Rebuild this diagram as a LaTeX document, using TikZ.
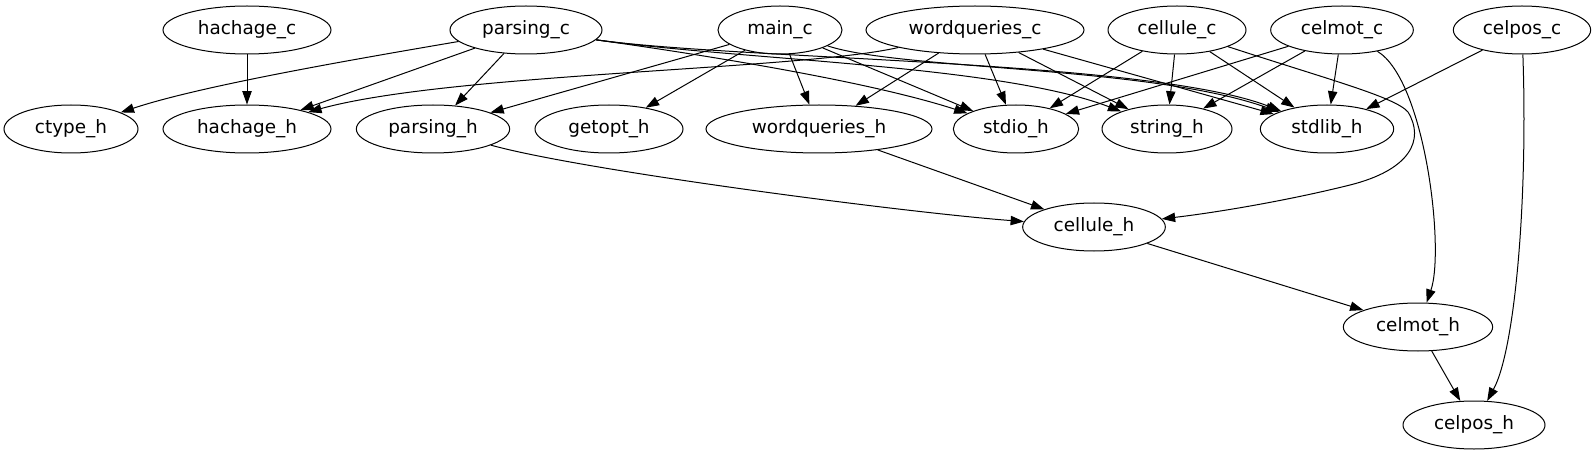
\documentclass[tikz,border=0pt]{standalone}
\usepackage{fontspec}
\setmainfont{DejaVu Sans}
\usetikzlibrary{arrows.meta,shapes.geometric}
\begin{document}
\begin{tikzpicture}[x=0.75pt,y=-0.75pt,
  nd/.style={draw, ellipse, line width=0.75pt, minimum height=36pt, inner sep=0pt,
             font=\fontsize{13.8}{16}\selectfont},
  edge/.style={line width=0.75pt, -{Triangle[length=10pt,width=7pt]}}]
\useasboundingbox (0,0) rectangle (1596,456);
% row 1
\node[nd, minimum width=126pt] (hachage_c) at (247,30) {hachage\_c};
\node[nd, minimum width=114pt] (parsing_c) at (526,30) {parsing\_c};
\node[nd, minimum width=93pt] (main_c) at (780,30) {main\_c};
\node[nd, minimum width=163.5pt] (wordqueries_c) at (975,30) {wordqueries\_c};
\node[nd, minimum width=103.5pt] (cellule_c) at (1177,30) {cellule\_c};
\node[nd, minimum width=107pt] (celmot_c) at (1342,30) {celmot\_c};
\node[nd, minimum width=103pt] (celpos_c) at (1522,30) {celpos\_c};
% row 2
\node[nd, minimum width=100.5pt] (ctype_h) at (71,129) {ctype\_h};
\node[nd, minimum width=126pt] (hachage_h) at (247,129) {hachage\_h};
\node[nd, minimum width=115pt] (parsing_h) at (433,129) {parsing\_h};
\node[nd, minimum width=111pt] (getopt_h) at (609,129) {getopt\_h};
\node[nd, minimum width=169.5pt] (wordqueries_h) at (819,129) {wordqueries\_h};
\node[nd, minimum width=94pt] (stdio_h) at (1016,129) {stdio\_h};
\node[nd, minimum width=97.5pt] (string_h) at (1167,129) {string\_h};
\node[nd, minimum width=100pt] (stdlib_h) at (1327,129) {stdlib\_h};
% lower rows
\node[nd, minimum width=107pt] (cellule_h) at (1094,227) {cellule\_h};
\node[nd, minimum width=112pt] (celmot_h) at (1418,327) {celmot\_h};
\node[nd, minimum width=106.5pt] (celpos_h) at (1474,425) {celpos\_h};

% edges
\draw[edge] (hachage_c) -- (hachage_h);
\draw[edge] (parsing_c) .. controls (350,60) and (200,86) .. (ctype_h);
\draw[edge] (parsing_c) -- (hachage_h);
\draw[edge] (parsing_c) -- (parsing_h);
\draw[edge] (parsing_c) .. controls (740,60) and (880,85) .. (stdio_h);
\draw[edge] (parsing_c) .. controls (740,60) and (1000,65) .. (string_h);
\draw[edge] (parsing_c) .. controls (740,60) and (1150,60) .. (stdlib_h);
\draw[edge] (main_c) -- (parsing_h);
\draw[edge] (main_c) -- (getopt_h);
\draw[edge] (main_c) -- (wordqueries_h);
\draw[edge] (main_c) -- (stdio_h);
\draw[edge] (main_c) .. controls (900,70) and (1150,66) .. (stdlib_h);
\draw[edge] (wordqueries_c) .. controls (800,70) and (450,73) .. (hachage_h);
\draw[edge] (wordqueries_c) -- (wordqueries_h);
\draw[edge] (wordqueries_c) -- (stdio_h);
\draw[edge] (wordqueries_c) -- (string_h);
\draw[edge] (wordqueries_c) -- (stdlib_h);
\draw[edge] (cellule_c) -- (stdio_h);
\draw[edge] (cellule_c) -- (string_h);
\draw[edge] (cellule_c) -- (stdlib_h);
\draw[edge] (cellule_c) .. controls (1330,80) and (1395,97) .. (1408,112)
  .. controls (1425,140) and (1410,170) .. (1350,185)
  .. controls (1290,200) and (1220,212) .. (cellule_h);
\draw[edge] (celmot_c) -- (stdio_h);
\draw[edge] (celmot_c) -- (string_h);
\draw[edge] (celmot_c) -- (stdlib_h);
\draw[edge] (celmot_c) .. controls (1425,80) and (1445,250) .. (celmot_h);
\draw[edge] (celpos_c) -- (stdlib_h);
\draw[edge] (celpos_c) .. controls (1528,200) and (1515,350) .. (celpos_h);
\draw[edge] (parsing_h) .. controls (580,170) and (900,212) .. (cellule_h);
\draw[edge] (wordqueries_h) -- (cellule_h);
\draw[edge] (cellule_h) -- (celmot_h);
\draw[edge] (celmot_h) -- (celpos_h);
\end{tikzpicture}
\end{document}
